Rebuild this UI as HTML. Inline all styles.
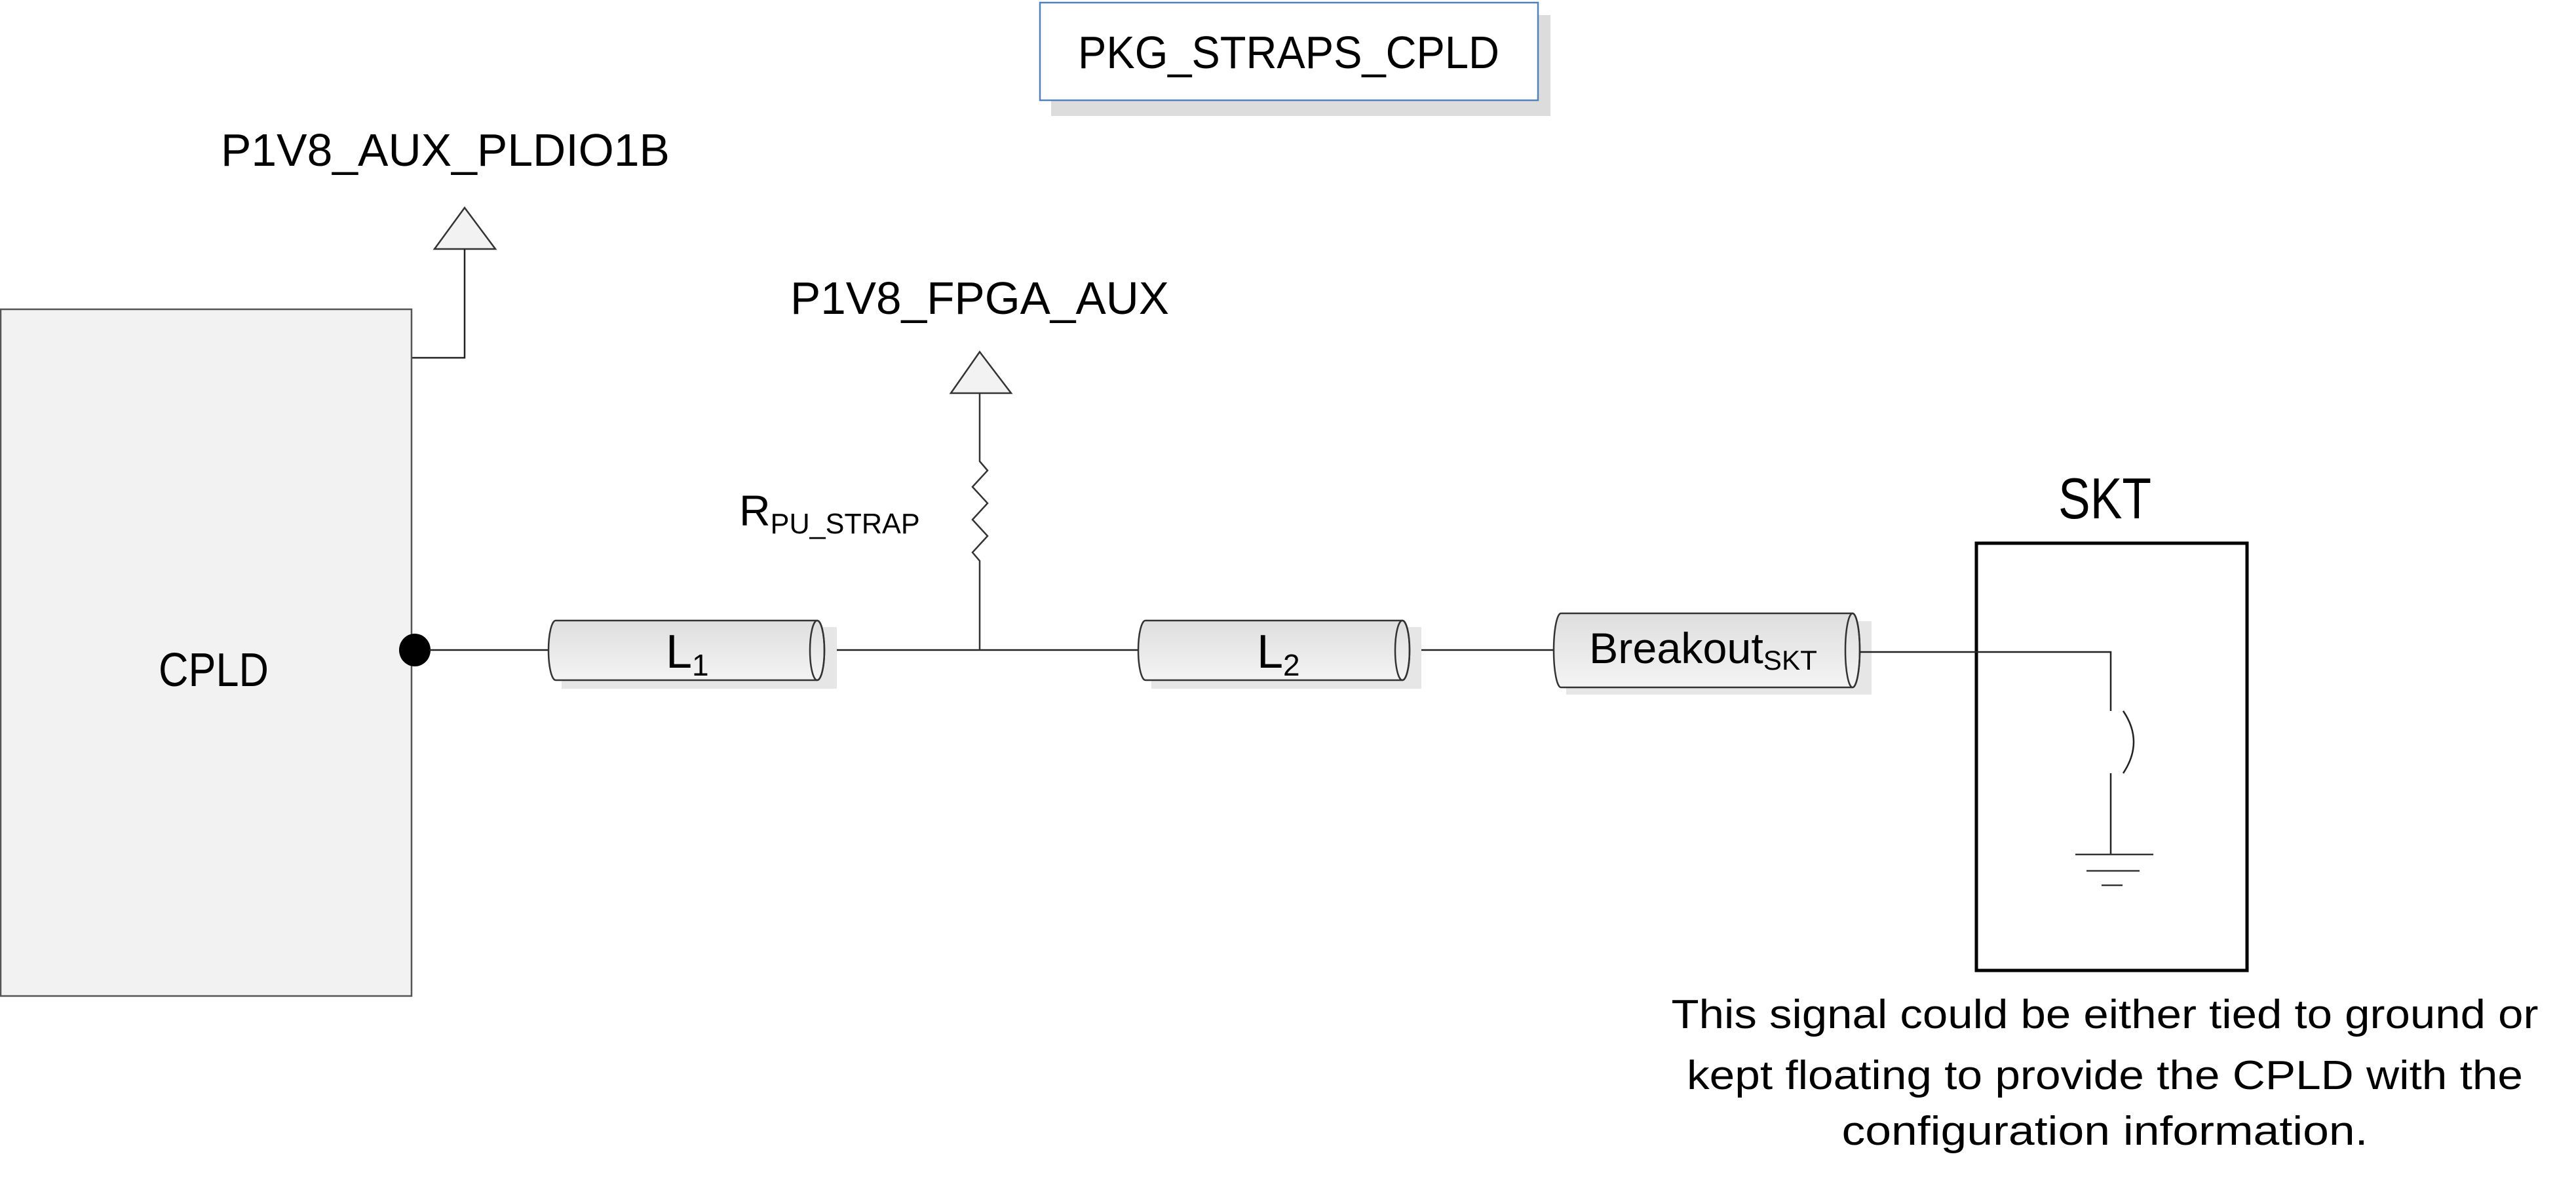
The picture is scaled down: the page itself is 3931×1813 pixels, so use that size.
<!DOCTYPE html>
<html><head><meta charset="utf-8"><style>html,body{margin:0;padding:0;background:#fff;}svg{display:block}</style></head>
<body>
<svg width="3931" height="1813" viewBox="0 0 3931 1813" xmlns="http://www.w3.org/2000/svg" font-family="'Liberation Sans', sans-serif">
<defs>
<linearGradient id="g" x1="0" y1="0" x2="0" y2="1"><stop offset="0" stop-color="#dedede"/><stop offset="1" stop-color="#f4f4f4"/></linearGradient>
</defs>
<!-- PKG box -->
<rect x="1604" y="23" width="762" height="154" fill="#dcdcdc"/>
<rect x="1587" y="4" width="760" height="149" fill="#fff" stroke="#4f81bd" stroke-width="2.5"/>
<text x="1645" y="104" font-size="70" textLength="643" lengthAdjust="spacingAndGlyphs">PKG_STRAPS_CPLD</text>

<!-- P1V8_AUX_PLDIO1B -->
<text x="337" y="253" font-size="70" textLength="685" lengthAdjust="spacingAndGlyphs">P1V8_AUX_PLDIO1B</text>
<polygon points="709,317 663,380 756,380" fill="#f2f2f2" stroke="#333" stroke-width="2.5"/>
<polyline points="709,380 709,546 628,546" fill="none" stroke="#222" stroke-width="2.5"/>

<!-- CPLD -->
<rect x="1" y="472" width="627" height="1048" fill="#f2f2f2" stroke="#555" stroke-width="2.5"/>
<text x="242" y="1047" font-size="72" textLength="168" lengthAdjust="spacingAndGlyphs">CPLD</text>
<ellipse cx="633" cy="992" rx="24" ry="25" fill="#000"/>

<!-- wires -->
<line x1="655" y1="992" x2="837" y2="992" stroke="#222" stroke-width="2.5"/>
<line x1="1258" y1="992" x2="1737" y2="992" stroke="#222" stroke-width="2.5"/>
<line x1="2151" y1="992" x2="2370" y2="992" stroke="#222" stroke-width="2.5"/>

<!-- L1 -->
<rect x="857" y="957" width="420" height="94" fill="#e6e6e6"/>
<path d="M848,947 L1247,947 A11,45.5 0 0 1 1247,1038 L848,1038 A11,45.5 0 0 1 848,947 Z" fill="url(#g)" stroke="#333" stroke-width="2.5"/>
<ellipse cx="1247" cy="992.5" rx="11" ry="45.5" fill="none" stroke="#333" stroke-width="2.5"/>
<text x="1016" y="1019" font-size="72">L<tspan font-size="46" dy="12">1</tspan></text>

<!-- L2 -->
<rect x="1757" y="957" width="412" height="94" fill="#e6e6e6"/>
<path d="M1748,947 L2140,947 A11,45.5 0 0 1 2140,1038 L1748,1038 A11,45.5 0 0 1 1748,947 Z" fill="url(#g)" stroke="#333" stroke-width="2.5"/>
<ellipse cx="2140" cy="992.5" rx="11" ry="45.5" fill="none" stroke="#333" stroke-width="2.5"/>
<text x="1918" y="1019" font-size="72">L<tspan font-size="46" dy="12">2</tspan></text>

<!-- Breakout -->
<rect x="2390" y="948" width="466" height="112" fill="#e6e6e6"/>
<path d="M2382,936 L2827,936 A11,56.5 0 0 1 2827,1049 L2382,1049 A11,56.5 0 0 1 2382,936 Z" fill="url(#g)" stroke="#333" stroke-width="2.5"/>
<ellipse cx="2827" cy="992.5" rx="11" ry="56.5" fill="none" stroke="#333" stroke-width="2.5"/>
<text x="2425" y="1012" font-size="66" textLength="348" lengthAdjust="spacingAndGlyphs">Breakout<tspan font-size="42" dy="10">SKT</tspan></text>

<!-- resistor -->
<text x="1495" y="479" font-size="70" text-anchor="middle" textLength="578" lengthAdjust="spacingAndGlyphs">P1V8_FPGA_AUX</text>
<polygon points="1495,537 1451,600 1543,600" fill="#f2f2f2" stroke="#333" stroke-width="2.5"/>
<polyline points="1495,600 1495,704 1507,718 1484,743 1507,768 1484,793 1507,818 1484,843 1495,856 1495,992" fill="none" stroke="#333" stroke-width="2.5"/>
<text x="1128" y="802" font-size="66">R<tspan font-size="44" dy="12" textLength="228" lengthAdjust="spacingAndGlyphs">PU_STRAP</tspan></text>

<!-- SKT -->
<text x="3212" y="791" font-size="88" text-anchor="middle" textLength="142" lengthAdjust="spacingAndGlyphs">SKT</text>
<rect x="3016" y="829" width="413" height="652" fill="none" stroke="#000" stroke-width="5"/>
<polyline points="2838,995 3221,995 3221,1085" fill="none" stroke="#222" stroke-width="2.5"/>
<path d="M3240,1085 Q3272,1132 3240,1180" fill="none" stroke="#222" stroke-width="2.5"/>
<line x1="3221" y1="1180" x2="3221" y2="1304" stroke="#222" stroke-width="2.5"/>
<line x1="3167" y1="1304" x2="3286" y2="1304" stroke="#333" stroke-width="2.5"/>
<line x1="3184" y1="1329" x2="3265" y2="1329" stroke="#333" stroke-width="2.5"/>
<line x1="3207" y1="1351" x2="3239" y2="1351" stroke="#333" stroke-width="2.5"/>

<!-- note -->
<g font-size="62" text-anchor="middle">
<text x="3212" y="1569" textLength="1323" lengthAdjust="spacingAndGlyphs">This signal could be either tied to ground or</text>
<text x="3212" y="1662" textLength="1276" lengthAdjust="spacingAndGlyphs">kept floating to provide the CPLD with the</text>
<text x="3212" y="1747" textLength="803" lengthAdjust="spacingAndGlyphs">configuration information.</text>
</g>
</svg>
</body></html>
